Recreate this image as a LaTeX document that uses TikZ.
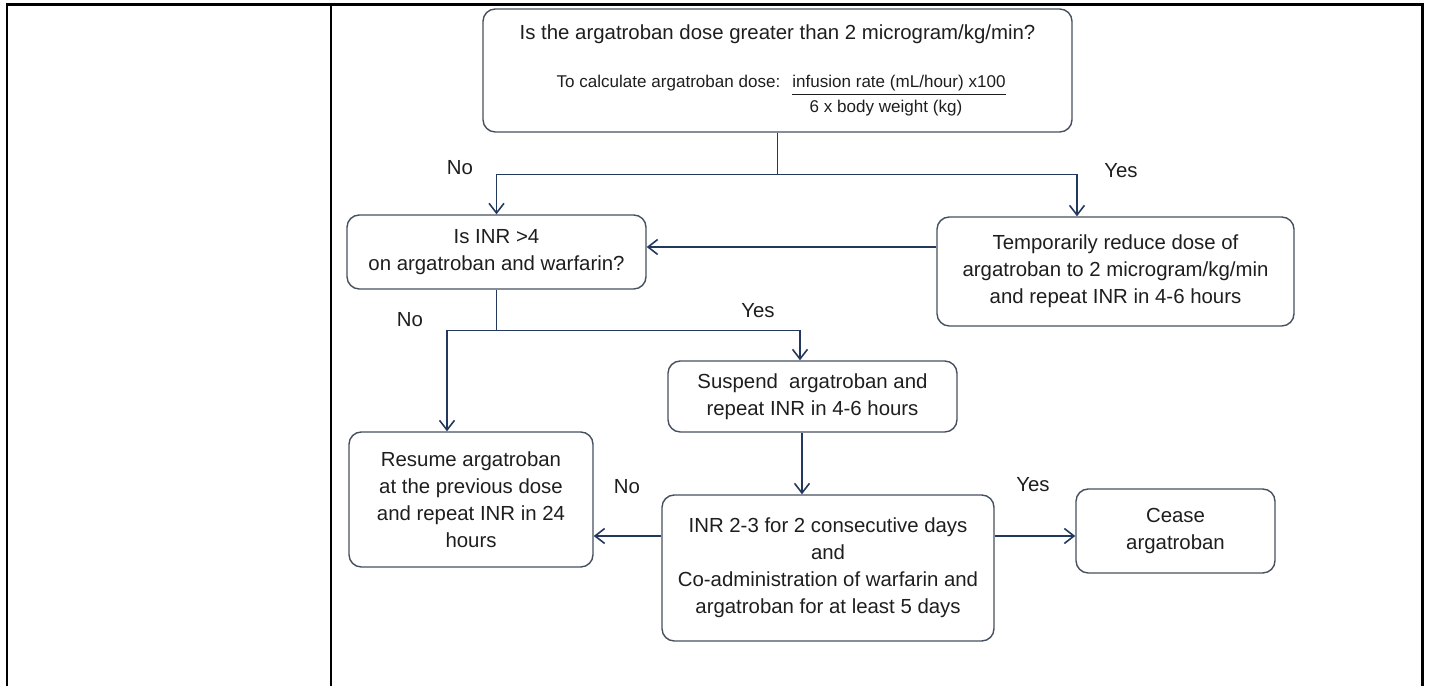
\documentclass[tikz,border=0pt]{standalone}
\usepackage{fontspec}
\setmainfont{Liberation Sans}
\usepackage{xcolor}
\usepackage{tikz}
\usetikzlibrary{arrows.meta}
\usetikzlibrary{calc}

\definecolor{boxline}{HTML}{45505F}
\definecolor{flowline}{HTML}{22385C}
\definecolor{inktext}{HTML}{1E1E1E}

\begin{document}
\begin{tikzpicture}[
    box/.style={draw=boxline, line width=0.8pt, rounded corners=7pt, align=center, inner sep=0pt, text=inktext, font=\fontsize{11.6}{15.4}\selectfont},
    lbl/.style={text=inktext, font=\fontsize{11.6}{15.4}\selectfont},
    calcfont/.style={text=inktext, inner sep=0pt, font=\fontsize{9.7}{12}\selectfont},
    flow/.style={draw=flowline, line width=0.9pt},
    flowarr/.style={flow, -{Straight Barb[length=5.5pt,width=8.5pt]}},
    tableline/.style={line width=1.7pt}
]
            \useasboundingbox (0,0) rectangle (28.58,13.72);
            \draw[tableline] (0.14,0) -- (0.14,13.62) -- (28.44,13.62) -- (28.44,0);
            \draw[tableline] (6.62,13.62) -- (6.62,0);

            \draw (15.55,12.31) node[box, minimum width=11.78cm, minimum height=2.46cm]  (dose) {};
            \draw (9.93,8.68) node[box, minimum width=5.98cm, minimum height=1.48cm]    (inr4) {Is INR >4\\on argatroban and warfarin?};
            \draw (22.31,8.29) node[box, minimum width=7.14cm, minimum height=2.18cm]   (temp) {Temporarily reduce dose of\\argatroban to 2 microgram/kg/min\\and repeat INR in 4-6 hours};
            \draw (16.25,5.79) node[box, minimum width=5.78cm, minimum height=1.42cm]   (susp) {Suspend \ argatroban and\\repeat INR in 4-6 hours};
            \draw (9.42,3.73) node[box, minimum width=4.88cm, minimum height=2.70cm]    (resume) {Resume argatroban\\at the previous dose\\and repeat INR in 24\\hours};
            \draw (16.56,2.36) node[box, minimum width=6.64cm, minimum height=2.92cm]   (inr23) {INR 2-3 for 2 consecutive days\\and\\Co-administration of warfarin and\\argatroban for at least 5 days};
            \draw (23.51,3.10) node[box, minimum width=3.98cm, minimum height=1.68cm]   (cease) {Cease\\argatroban};

            \draw (15.55,12.92) node[lbl, anchor=base]                (ask) {Is the argatroban dose greater than 2 microgram/kg/min?};
            \draw (13.37,11.96) node[calcfont, anchor=base]           (calctxt) {To calculate argatroban dose:};
            \draw (15.84,11.96) node[calcfont, anchor=base west]      (numer) {\underline{infusion rate (mL/hour) x100}};
            \draw (17.72,11.46) node[calcfont, anchor=base]           (denom) {6 x body weight (kg)};

            \draw (9.20,10.36) node[lbl]  (no1) {No};
            \draw (22.42,10.30) node[lbl] (yes1) {Yes};
            \draw (8.20,7.32) node[lbl]   (no2) {No};
            \draw (15.16,7.50) node[lbl]  (yes2) {Yes};
            \draw (12.54,3.98) node[lbl]  (no3) {No};
            \draw (20.66,4.02) node[lbl]  (yes3) {Yes};

            \coordinate (j1) at ([yshift=-0.84cm]dose.south);
            \coordinate (j2) at ([yshift=-0.82cm]inr4.south);
            \coordinate (t2) at ([yshift=0.49cm]temp.west);
            \coordinate (s1) at ([xshift=-0.21cm]susp.south);
            \coordinate (n1) at ([yshift=0.64cm]inr23.west);
            \coordinate (n2) at ([yshift=0.64cm]inr23.east);
            \draw[flow] (dose.south) -- (j1);
            \draw[flowarr] (j1) -| (inr4.north);
            \draw[flowarr] (j1) -| ([xshift=-0.77cm]temp.north);
            \draw[flowarr] (t2) -- (t2 -| inr4.east);
            \draw[flow] (inr4.south) -- (j2);
            \draw[flowarr] (j2) -| ([xshift=-0.48cm]resume.north);
            \draw[flowarr] (j2) -| ([xshift=-0.25cm]susp.north);
            \draw[flowarr] (s1) -- (s1 |- inr23.north);
            \draw[flowarr] (n1) -- (n1 -| resume.east);
            \draw[flowarr] (n2) -- (n2 -| cease.west);

\end{tikzpicture}
\end{document}
